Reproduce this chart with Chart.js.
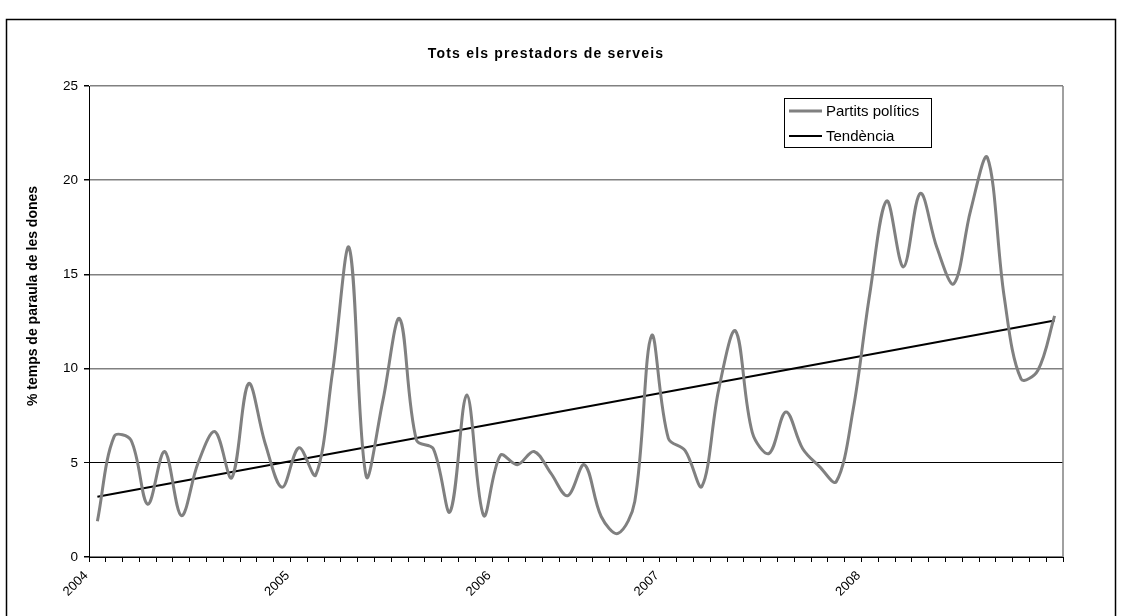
<!DOCTYPE html>
<html>
<head>
<meta charset="utf-8">
<script src="https://cdn.jsdelivr.net/npm/chart.js@4.4.1/dist/chart.umd.min.js"></script>
<style>
  html, body { margin: 0; padding: 0; background: #fff; }
  #wrap { position: relative; width: 1121px; height: 616px; }
</style>
</head>
<body>
<div id="wrap"><canvas id="c" width="1121" height="616"></canvas></div>
<script>
// Texts
const chartTitle = 'Tots els prestadors de serveis';
const yAxisTitle = '% temps de paraula de les dones';
const seriesName = 'Partits polítics';
const trendName = 'Tendència';

// Monthly periods (2006 has no data for July and August)
const months = [
  '2004-01','2004-02','2004-03','2004-04','2004-05','2004-06','2004-07','2004-08','2004-09','2004-10','2004-11','2004-12',
  '2005-01','2005-02','2005-03','2005-04','2005-05','2005-06','2005-07','2005-08','2005-09','2005-10','2005-11','2005-12',
  '2006-01','2006-02','2006-03','2006-04','2006-05','2006-06','2006-09','2006-10','2006-11','2006-12',
  '2007-01','2007-02','2007-03','2007-04','2007-05','2007-06','2007-07','2007-08','2007-09','2007-10','2007-11','2007-12',
  '2008-01','2008-02','2008-03','2008-04','2008-05','2008-06','2008-07','2008-08','2008-09','2008-10','2008-11','2008-12'
];

// % speaking time of women, political parties
const partits = [
  1.9, 6.4, 6.2, 2.8, 5.6, 2.2, 5.0, 6.65, 4.2, 9.2, 6.0, 3.7,
  5.8, 4.35, 9.8, 16.4, 4.3, 8.3, 12.65, 6.2, 5.75, 2.4, 8.6, 2.2,
  5.4, 4.9, 5.6, 4.45, 3.25, 4.9, 2.15, 1.25, 2.95, 11.75,
  6.3, 5.65, 3.75, 8.9, 12.0, 6.6, 5.5, 7.7, 5.75, 4.8, 4.0, 7.8,
  14.0, 18.9, 15.4, 19.3, 16.4, 14.5, 18.4, 21.2, 13.8, 9.45, 9.9, 12.8
];

// Linear trend: value at the first and at the last month
const trendEnds = [3.2, 12.55];

// Value axis ticks
const yTicks = [0, 5, 10, 15, 20, 25];

const FONT = '"Liberation Sans", Arial, sans-serif';

function yearAt(boundary) {
  if (boundary >= months.length) return '';
  const y = months[boundary].slice(0, 4);
  if (boundary === 0 || months[boundary - 1].slice(0, 4) !== y) return y;
  return '';
}

const decorations = {
  id: 'decorations',
  afterDraw(chart) {
    const ctx = chart.ctx;
    const area = chart.chartArea;
    ctx.save();

    // right edge of the plot area
    ctx.strokeStyle = '#808080';
    ctx.lineWidth = 1.5;
    ctx.beginPath();
    ctx.moveTo(area.right, area.top);
    ctx.lineTo(area.right, area.bottom);
    ctx.stroke();

    // chart title
    ctx.fillStyle = '#000';
    ctx.font = 'bold 14px ' + FONT;
    ctx.textAlign = 'center';
    ctx.textBaseline = 'middle';
    ctx.letterSpacing = '1.2px';
    ctx.fillText(chartTitle, 546, 54);
    ctx.letterSpacing = '0px';

    // value axis title
    ctx.save();
    ctx.translate(33, 296);
    ctx.rotate(-Math.PI / 2);
    ctx.font = 'bold 14px ' + FONT;
    ctx.fillText(yAxisTitle, 0, 0);
    ctx.restore();

    // legend
    const lx = 784.5, ly = 98.5, lw = 147, lh = 49;
    ctx.fillStyle = '#fff';
    ctx.fillRect(lx, ly, lw, lh);
    ctx.strokeStyle = '#000';
    ctx.lineWidth = 1;
    ctx.strokeRect(lx, ly, lw, lh);
    const rows = [111, 136];
    chart.data.datasets.forEach((ds, i) => {
      ctx.strokeStyle = ds.borderColor;
      ctx.lineWidth = ds.borderWidth;
      ctx.beginPath();
      ctx.moveTo(789, rows[i]);
      ctx.lineTo(822, rows[i]);
      ctx.stroke();
      ctx.fillStyle = '#000';
      ctx.font = '15px ' + FONT;
      ctx.textAlign = 'left';
      ctx.textBaseline = 'middle';
      ctx.fillText(ds.label, 826, rows[i] + 0.5);
    });

    // outer frame
    ctx.strokeStyle = '#000';
    ctx.lineWidth = 1.5;
    ctx.strokeRect(6.5, 19.5, 1109, 620);
    ctx.restore();
  }
};

new Chart(document.getElementById('c'), {
  type: 'line',
  data: {
    datasets: [
      {
        label: seriesName,
        data: partits.map((v, i) => ({ x: i + 0.5, y: v })),
        borderColor: '#808080',
        borderWidth: 3,
        tension: 0.35,
        pointRadius: 0,
        fill: false
      },
      {
        label: trendName,
        data: [
          { x: 0.5, y: trendEnds[0] },
          { x: months.length - 0.5, y: trendEnds[1] }
        ],
        borderColor: '#000',
        borderWidth: 2,
        tension: 0,
        pointRadius: 0,
        fill: false
      }
    ]
  },
  options: {
    responsive: false,
    animation: false,
    layout: { padding: { left: 0, top: 86, right: 58, bottom: 0 } },
    plugins: {
      legend: { display: false },
      title: { display: false },
      tooltip: { enabled: false }
    },
    scales: {
      x: {
        type: 'linear',
        min: 0,
        max: months.length,
        afterBuildTicks: s => {
          const t = [];
          for (let i = 0; i <= months.length; i++) t.push({ value: i });
          s.ticks = t;
        },
        afterFit: s => { s.height = 616 - 557; },
        ticks: {
          autoSkip: false,
          minRotation: 45,
          maxRotation: 45,
          padding: 6,
          labelOffset: -3,
          color: '#000',
          font: { family: FONT, size: 13 },
          callback: v => yearAt(v)
        },
        grid: { drawOnChartArea: false, drawTicks: true, tickLength: 5, tickColor: '#000' },
        border: { color: '#000', width: 1 }
      },
      y: {
        min: 0,
        max: 25,
        afterBuildTicks: s => { s.ticks = yTicks.map(v => ({ value: v })); },
        afterFit: s => { s.width = 89; },
        ticks: {
          padding: 6,
          color: '#000',
          font: { family: FONT, size: 13.5 }
        },
        grid: {
          color: c => (c.tick && c.tick.value === 5) ? '#000' : '#808080',
          lineWidth: c => (c.tick && c.tick.value === 5) ? 1 : 1.5,
          tickLength: 5,
          tickColor: '#000'
        },
        border: { color: '#000', width: 1 }
      }
    }
  },
  plugins: [decorations]
});
</script>
</body>
</html>
